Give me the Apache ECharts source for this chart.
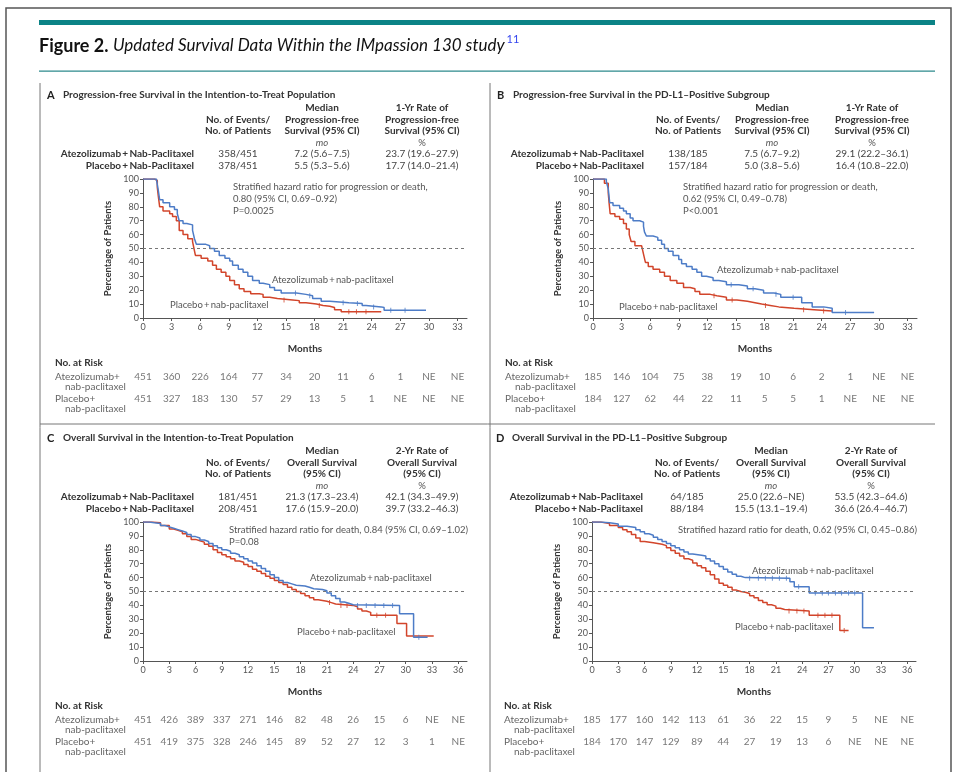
<!DOCTYPE html>
<html>
<head>
<meta charset="utf-8">
<title>Figure 2 - IMpassion130</title>
<script src="https://cdn.jsdelivr.net/npm/echarts@6/dist/echarts.min.js"></script>
<style>
    html, body { margin: 0; padding: 0; background: #fff; }
    #chart { width: 961px; height: 772px; }
</style>
</head>
<body>
<div id="chart"></div>
<script>
// ---- data ----
var panelLetters = ['A', 'B', 'C', 'D'];
var panelTitles = [
    'Progression-free Survival in the Intention-to-Treat Population',
    'Progression-free Survival in the PD-L1\u2013Positive Subgroup',
    'Overall Survival in the Intention-to-Treat Population',
    'Overall Survival in the PD-L1\u2013Positive Subgroup'
];
var eventsHead = ['No. of Events/', 'No. of Patients'];
var pfsMedianHead = ['Median', 'Progression-free', 'Survival (95% CI)'];
var pfsRateHead = ['1-Yr Rate of', 'Progression-free', 'Survival (95% CI)'];
var osMedianHead = ['Median', 'Overall Survival', '(95% CI)'];
var osRateHead = ['2-Yr Rate of', 'Overall Survival', '(95% CI)'];
var armNames = ['Atezolizumab\u2009+\u2009Nab-Paclitaxel', 'Placebo\u2009+\u2009Nab-Paclitaxel'];
var eventsAtezo = ['358/451', '138/185', '181/451', '64/185'];
var eventsPlacebo = ['378/451', '157/184', '208/451', '88/184'];
var medianAtezo = ['7.2 (5.6\u20137.5)', '7.5 (6.7\u20139.2)', '21.3 (17.3\u201323.4)', '25.0 (22.6\u2013NE)'];
var medianPlacebo = ['5.5 (5.3\u20135.6)', '5.0 (3.8\u20135.6)', '17.6 (15.9\u201320.0)', '15.5 (13.1\u201319.4)'];
var rateAtezo = ['23.7 (19.6\u201327.9)', '29.1 (22.2\u201336.1)', '42.1 (34.3\u201349.9)', '53.5 (42.3\u201364.6)'];
var ratePlacebo = ['17.7 (14.0\u201321.4)', '16.4 (10.8\u201322.0)', '39.7 (33.2\u201346.3)', '36.6 (26.4\u201346.7)'];
var hazardLines = [
    ['Stratified hazard ratio for progression or death,', '0.80 (95% CI, 0.69\u20130.92)', 'P=0.0025'],
    ['Stratified hazard ratio for progression or death,', '0.62 (95% CI, 0.49\u20130.78)', 'P<0.001'],
    ['Stratified hazard ratio for death, 0.84 (95% CI, 0.69\u20131.02)', 'P=0.08'],
    ['Stratified hazard ratio for death, 0.62 (95% CI, 0.45\u20130.86)']
];

var pfsTicks = [0, 3, 6, 9, 12, 15, 18, 21, 24, 27, 30, 33];
var osTicks = [0, 3, 6, 9, 12, 15, 18, 21, 24, 27, 30, 33, 36];

// Kaplan-Meier curves [month, % surviving]
var atezoPfsItt = [[0,100],[1.4,99],[1.6,92],[1.75,85],[2.1,83],[2.8,80],[3.3,78],[3.6,75],[3.8,70],[4.2,68],[4.6,67],[5.2,63],[5.4,57],[5.6,53],[6.6,52],[7.0,50],[7.5,48],[8.0,45],[8.6,43],[9.1,41],[9.4,38],[10.0,35],[10.5,33],[11.0,30],[11.5,27],[12.2,25],[12.6,24],[13.3,22],[13.8,20],[14.5,18],[16.1,17],[17.1,16],[17.8,14],[18.7,12],[19.6,11],[21.6,10.5],[23.0,9],[23.4,8],[25.0,7.5],[25.3,5.5],[29.7,5.5]];
var placeboPfsItt = [[0,100],[1.2,99],[1.5,94],[1.6,88],[1.75,80],[2.1,77],[2.8,75],[3.1,73],[3.5,70],[3.8,63],[4.2,60],[4.7,57],[5.2,55],[5.35,50],[5.5,45],[6.1,43],[6.8,41],[7.3,38],[7.7,35],[8.2,33],[8.7,30],[9.1,27],[9.6,24],[10.1,21],[10.6,19],[11.3,17.5],[12.2,17],[12.6,15],[13.3,14],[14.1,13],[15.7,12.5],[16.4,11],[17.1,10],[18.2,9],[18.9,8.5],[19.6,7.5],[20.1,6],[20.8,4.5],[25.0,4.5]];
var atezoPfsPdl1 = [[0,100],[1.4,98],[1.6,93],[1.75,83],[2.1,81],[2.8,79],[3.2,77],[3.5,75],[3.9,72],[4.2,70],[4.9,69],[5.3,66],[5.4,62],[5.6,59],[6.3,58],[6.8,56],[7.2,53],[7.5,50],[7.9,48],[8.4,45],[9.0,42],[9.3,39],[9.8,37],[10.4,35],[10.9,33],[11.4,30],[11.9,29],[12.6,27],[13.2,26],[14.0,24],[15.3,23],[16.2,21],[17.0,20],[17.9,18],[19.0,17],[19.7,15],[21.9,11],[23.0,8],[24.2,7],[25.1,4],[29.5,4]];
var placeboPfsPdl1 = [[0,100],[1.2,97],[1.6,90],[1.7,82],[1.8,75],[2.3,73],[2.8,71],[3.2,68],[3.5,64],[3.8,60],[4.0,55],[4.4,52],[5.1,51],[5.3,46],[5.5,40],[5.8,37],[6.3,35],[7.0,33],[7.5,30],[8.1,27],[8.8,25],[9.5,22],[10.2,21],[10.7,19],[11.2,17],[12.3,16],[13.0,15],[14.0,13],[15.1,12],[16.2,11],[17.0,10],[17.7,9],[18.6,8],[19.5,7],[21.1,6],[23.2,5],[25.1,5]];
var atezoOsItt = [[0,100],[0.7,99.5],[1.3,99],[2,97.5],[2.5,96.5],[3,95.5],[3.5,94.5],[4,93.5],[4.5,92.5],[5,91],[5.5,89.5],[6,88.5],[6.5,87],[7,86],[7.5,84.5],[8,83],[8.5,81.5],[9,80],[9.5,79],[10,77.5],[10.5,76.5],[11,75],[11.5,73.5],[12,72],[12.5,70.5],[13,68.5],[13.5,66.5],[14,64.5],[14.5,62],[15,60],[15.5,58],[16,56.5],[16.5,55.5],[17,54.5],[17.5,54],[18.5,53],[19,52],[19.5,51.5],[20.5,50.5],[21,49],[21.5,47],[22,45],[22.5,42.5],[23,41.5],[23.5,40.5],[24,40],[29.3,34],[30.9,17],[32.5,17]];
var placeboOsItt = [[0,100],[1,99.5],[2,97.5],[3,95],[3.5,94],[4,93],[4.5,91.5],[5,89.5],[5.5,87.5],[6,86.5],[6.5,85.5],[7,84],[7.5,82.5],[8,80],[8.5,78],[9,76.5],[9.5,75],[10,73.5],[10.5,72],[11,71],[11.5,69.5],[12,68],[12.5,66],[13,64.5],[13.5,63],[14,61],[14.5,59.5],[15,58],[15.5,56.5],[16,55],[16.5,53],[17,51.5],[17.5,50],[18,48.5],[18.5,47],[19,45.5],[19.5,44],[20,43.5],[20.5,43],[21,42],[21.5,41],[22,40],[24,39],[24.5,37.5],[25,36],[25.5,35],[26,33],[29,27],[30.1,18],[33.2,18]];
var atezoOsPdl1 = [[0,100],[1,99.5],[2,98.5],[3,97],[4,96],[5,94.5],[5.5,93],[6,91.5],[6.5,90.5],[7,89],[7.5,87.5],[8,86],[8.5,84.5],[9,83],[9.5,81.5],[10,80],[10.5,78.5],[11,77],[11.5,76],[12.5,75.5],[13,73.5],[13.5,72],[14,70],[14.5,68],[15,66],[15.5,64],[16,62.5],[16.5,61],[17,60],[17.5,59.5],[22.6,57],[23.1,53.5],[24.8,49],[30.9,24],[32.2,24]];
var placeboOsPdl1 = [[0,100],[1,99],[2,97.5],[3,96],[3.5,94.5],[4,93],[4.5,91],[5,88.5],[5.5,86],[6,85],[7,84.5],[7.5,84],[8,83],[8.5,81.5],[9,79.5],[9.5,77.5],[10,75.5],[10.5,73.5],[11,72.5],[11.5,70.5],[12,68.5],[12.5,67],[13,64.5],[13.5,62],[14,59],[14.5,56],[15,54.5],[15.5,53],[16,51],[16.5,50],[17,49.5],[17.5,48.5],[18,47],[18.5,45.5],[19,43.5],[19.5,42],[20,40.5],[20.5,39.5],[21,38],[21.5,37],[22,36],[24.8,33],[28.3,22],[29.3,22]];

// censored observations (months)
var atezoCensor = [[16, 17.5, 21, 22.5, 24.2, 26, 27.5], [14.5, 16.8, 19.2, 21, 26.5], [24.5, 25.5, 26.5, 27.5, 28.5, 31.5], [18, 19, 19.8, 20.6, 21.4, 22.2, 23.6, 25.5, 26.3, 27, 27.8, 28.5, 29.3, 30]];
var placeboCensor = [[14.8, 18.5, 21.6, 22.4, 23.4], [12.7, 14.6, 18.1, 22.1, 24.2], [21.3, 22.6, 23.3, 26.7, 27.7], [22.5, 23.4, 24.2, 25.8, 26.6, 27.4, 28.8]];

// numbers at risk
var riskAtezo = [
    [451, 360, 226, 164, 77, 34, 20, 11, 6, 1, 'NE', 'NE'],
    [185, 146, 104, 75, 38, 19, 10, 6, 2, 1, 'NE', 'NE'],
    [451, 426, 389, 337, 271, 146, 82, 48, 26, 15, 6, 'NE', 'NE'],
    [185, 177, 160, 142, 113, 61, 36, 22, 15, 9, 5, 'NE', 'NE']
];
var riskPlacebo = [
    [451, 327, 183, 130, 57, 29, 13, 5, 1, 'NE', 'NE', 'NE'],
    [184, 127, 62, 44, 22, 11, 5, 5, 1, 'NE', 'NE', 'NE'],
    [451, 419, 375, 328, 246, 145, 89, 52, 27, 12, 3, 1, 'NE'],
    [184, 170, 147, 129, 89, 44, 27, 19, 13, 6, 'NE', 'NE', 'NE']
];

var atezoCurves = [atezoPfsItt, atezoPfsPdl1, atezoOsItt, atezoOsPdl1];
var placeboCurves = [placeboPfsItt, placeboPfsPdl1, placeboOsItt, placeboOsPdl1];

// ---- layout ----
var FONT = 'Lato, "Open Sans", sans-serif';
var BLUE = '#4d7cc7', RED = '#d2452b', TEAL = '#0b8386';
var offX = [0, 450, 0, 449], offY = [0, 0, 343, 343];
var xMax = [34, 34, 37, 37];
var atezoLabelPos = [[272, 280], [717, 270], [310, 578], [752, 571]];
var placeboLabelPos = [[170, 305], [619, 307], [297, 632], [735, 627]];

function survAt(curve, t) {
    var v = curve[0][1];
    for (var k = 0; k < curve.length; k++) {
        if (curve[k][0] <= t) v = curve[k][1];
    }
    return v;
}

function txt(x, y, text, font, fill, align) {
    return {
        type: 'text', silent: true,
        style: { x: x, y: y, text: text, font: font, fill: fill || '#333', align: align || 'left', verticalAlign: 'middle' }
    };
}

var graphics = [];
// frame, teal rules, panel dividers
graphics.push({ type: 'rect', shape: { x: 6, y: 8, width: 945, height: 800 }, style: { fill: null, stroke: '#555', lineWidth: 1.5 } });
graphics.push({ type: 'rect', shape: { x: 39, y: 20, width: 896, height: 5 }, style: { fill: TEAL } });
graphics.push({ type: 'rect', shape: { x: 39, y: 70.5, width: 896, height: 1.2 }, style: { fill: '#2d8a8c' } });
graphics.push({ type: 'line', shape: { x1: 40, y1: 83, x2: 40, y2: 772 }, style: { stroke: '#777', lineWidth: 1 } });
graphics.push({ type: 'line', shape: { x1: 490, y1: 83, x2: 490, y2: 772 }, style: { stroke: '#777', lineWidth: 1 } });
graphics.push({ type: 'line', shape: { x1: 40, y1: 424, x2: 935, y2: 424 }, style: { stroke: '#777', lineWidth: 1 } });

// figure caption
var capBold = 'Figure 2. ';
var capItalic = 'Updated Survival Data Within the IMpassion 130 study';
var ctx = document.createElement('canvas').getContext('2d');
ctx.font = 'bold 18px ' + FONT;
var wBold = ctx.measureText(capBold).width;
ctx.font = 'italic 17px ' + FONT;
var wItal = ctx.measureText(capItalic).width;
graphics.push(txt(39, 46, capBold, 'bold 18px ' + FONT, '#111'));
graphics.push(txt(39 + wBold, 46, capItalic, 'italic 17px ' + FONT, '#111'));
graphics.push(txt(41 + wBold + wItal, 39, '11', '11px ' + FONT, '#3344ee'));

for (var i = 0; i < 4; i++) {
    var dx = offX[i], dy = offY[i];
    var isOs = i >= 2;
    graphics.push(txt(47 + dx, 95 + dy, panelLetters[i], 'bold 11px ' + FONT, '#222'));
    graphics.push(txt(63 + dx, 95 + dy, panelTitles[i], 'bold 10px ' + FONT, '#333'));
    var medHead = isOs ? osMedianHead : pfsMedianHead;
    var rateHead = isOs ? osRateHead : pfsRateHead;
    var headY = [108, 120, 131];
    for (var h = 0; h < 3; h++) {
        graphics.push(txt(322 + dx, headY[h] + dy, medHead[h], 'bold 10px ' + FONT, '#333', 'center'));
        graphics.push(txt(422 + dx, headY[h] + dy, rateHead[h], 'bold 10px ' + FONT, '#333', 'center'));
    }
    graphics.push(txt(238 + dx, 120 + dy, eventsHead[0], 'bold 10px ' + FONT, '#333', 'center'));
    graphics.push(txt(238 + dx, 131 + dy, eventsHead[1], 'bold 10px ' + FONT, '#333', 'center'));
    graphics.push(txt(322 + dx, 143 + dy, 'mo', 'italic 9.5px ' + FONT, '#555', 'center'));
    graphics.push(txt(422 + dx, 143 + dy, '%', '9.5px ' + FONT, '#555', 'center'));
    graphics.push(txt(194 + dx, 154 + dy, armNames[0], 'bold 10px ' + FONT, '#333', 'right'));
    graphics.push(txt(194 + dx, 166 + dy, armNames[1], 'bold 10px ' + FONT, '#333', 'right'));
    graphics.push(txt(238 + dx, 154 + dy, eventsAtezo[i], '10px ' + FONT, '#444', 'center'));
    graphics.push(txt(238 + dx, 166 + dy, eventsPlacebo[i], '10px ' + FONT, '#444', 'center'));
    graphics.push(txt(322 + dx, 154 + dy, medianAtezo[i], '10px ' + FONT, '#444', 'center'));
    graphics.push(txt(322 + dx, 166 + dy, medianPlacebo[i], '10px ' + FONT, '#444', 'center'));
    graphics.push(txt(422 + dx, 154 + dy, rateAtezo[i], '10px ' + FONT, '#444', 'center'));
    graphics.push(txt(422 + dx, 166 + dy, ratePlacebo[i], '10px ' + FONT, '#444', 'center'));
    // hazard ratio note
    var hx = isOs ? 229 : 233;
    for (var l = 0; l < hazardLines[i].length; l++) {
        graphics.push(txt(hx + dx, 187 + dy + l * 12, hazardLines[i][l], '9.5px ' + FONT, '#555'));
    }
    // curve labels
    graphics.push(txt(atezoLabelPos[i][0], atezoLabelPos[i][1], 'Atezolizumab\u2009+\u2009nab-paclitaxel', '9.5px ' + FONT, '#555'));
    graphics.push(txt(placeboLabelPos[i][0], placeboLabelPos[i][1], 'Placebo\u2009+\u2009nab-paclitaxel', '9.5px ' + FONT, '#555'));
    // number-at-risk row labels
    graphics.push(txt(55 + dx, 363 + dy, 'No. at Risk', 'bold 10px ' + FONT, '#333'));
    graphics.push(txt(55 + dx, 377 + dy, 'Atezolizumab+', '10px ' + FONT, '#666'));
    graphics.push(txt(65 + dx, 386.5 + dy, 'nab-paclitaxel', '10px ' + FONT, '#666'));
    graphics.push(txt(55 + dx, 399 + dy, 'Placebo+', '10px ' + FONT, '#666'));
    graphics.push(txt(65 + dx, 408.5 + dy, 'nab-paclitaxel', '10px ' + FONT, '#666'));
}

var grids = [], xAxes = [], yAxes = [], series = [];
for (var p = 0; p < 4; p++) {
    var ticks = p >= 2 ? osTicks : pfsTicks;
    grids.push({ left: 143 + offX[p], top: 179 + offY[p], width: 324, height: 139, outerBoundsMode: 'none' });
    grids.push({ left: 143 + offX[p], top: 366 + offY[p], width: 324, height: 44, outerBoundsMode: 'none' });
    xAxes.push({
        type: 'value', gridIndex: 2 * p, min: 0, max: xMax[p],
        name: 'Months', nameLocation: 'middle', nameGap: 26,
        nameTextStyle: { fontFamily: FONT, fontWeight: 'bold', fontSize: 10, color: '#333' },
        axisLine: { lineStyle: { color: '#555', width: 1 } },
        axisTick: { show: true, length: 3, customValues: ticks, lineStyle: { color: '#555' } },
        axisLabel: { customValues: ticks, fontFamily: FONT, fontSize: 9, color: '#555', margin: 5 },
        splitLine: { show: false }
    });
    xAxes.push({ type: 'value', gridIndex: 2 * p + 1, min: 0, max: xMax[p], show: false });
    yAxes.push({
        type: 'value', gridIndex: 2 * p, min: 0, max: 100, interval: 10,
        name: 'Percentage of Patients', nameLocation: 'middle', nameGap: 30, nameRotate: 90,
        nameTextStyle: { fontFamily: FONT, fontWeight: 'bold', fontSize: 9.5, color: '#333' },
        axisLine: { show: true, lineStyle: { color: '#555', width: 1 } },
        axisTick: { show: true, length: 3, lineStyle: { color: '#555' } },
        axisLabel: { fontFamily: FONT, fontSize: 9, color: '#555', margin: 4 },
        splitLine: { show: false }
    });
    yAxes.push({ type: 'category', gridIndex: 2 * p + 1, data: ['atezo', 'placebo'], inverse: true, show: false });

    series.push({
        type: 'line', step: 'end', xAxisIndex: 2 * p, yAxisIndex: 2 * p,
        data: atezoCurves[p], showSymbol: false, silent: true,
        lineStyle: { color: BLUE, width: 1.5 }, z: 3,
        markLine: {
            silent: true, symbol: 'none', label: { show: false },
            lineStyle: { color: '#777', type: [3, 3], width: 1 },
            data: [{ yAxis: 50 }]
        }
    });
    series.push({
        type: 'line', step: 'end', xAxisIndex: 2 * p, yAxisIndex: 2 * p,
        data: placeboCurves[p], showSymbol: false, silent: true,
        lineStyle: { color: RED, width: 1.5 }, z: 2
    });
    series.push({
        type: 'scatter', xAxisIndex: 2 * p, yAxisIndex: 2 * p, silent: true, z: 3,
        symbol: 'rect', symbolSize: [1, 5], itemStyle: { color: BLUE },
        data: atezoCensor[p].map(function (t) { return [t, survAt(atezoCurves[p], t)]; })
    });
    series.push({
        type: 'scatter', xAxisIndex: 2 * p, yAxisIndex: 2 * p, silent: true, z: 2,
        symbol: 'rect', symbolSize: [1, 5], itemStyle: { color: RED },
        data: placeboCensor[p].map(function (t) { return [t, survAt(placeboCurves[p], t)]; })
    });
    var riskData = [];
    ticks.forEach(function (m, k) {
        riskData.push([m, 0, riskAtezo[p][k]]);
        riskData.push([m, 1, riskPlacebo[p][k]]);
    });
    series.push({
        type: 'scatter', xAxisIndex: 2 * p + 1, yAxisIndex: 2 * p + 1, silent: true,
        symbolSize: 1, itemStyle: { color: 'rgba(0,0,0,0)' },
        label: {
            show: true, position: 'inside', fontFamily: FONT, fontSize: 10, color: '#555',
            formatter: function (prm) { return String(prm.data[2]); }
        },
        data: riskData
    });
}

var chart = echarts.init(document.getElementById('chart'), null, { renderer: 'canvas' });
chart.setOption({
    backgroundColor: '#fff',
    animation: false,
    grid: grids,
    xAxis: xAxes,
    yAxis: yAxes,
    series: series,
    graphic: { elements: graphics }
});
</script>
</body>
</html>
